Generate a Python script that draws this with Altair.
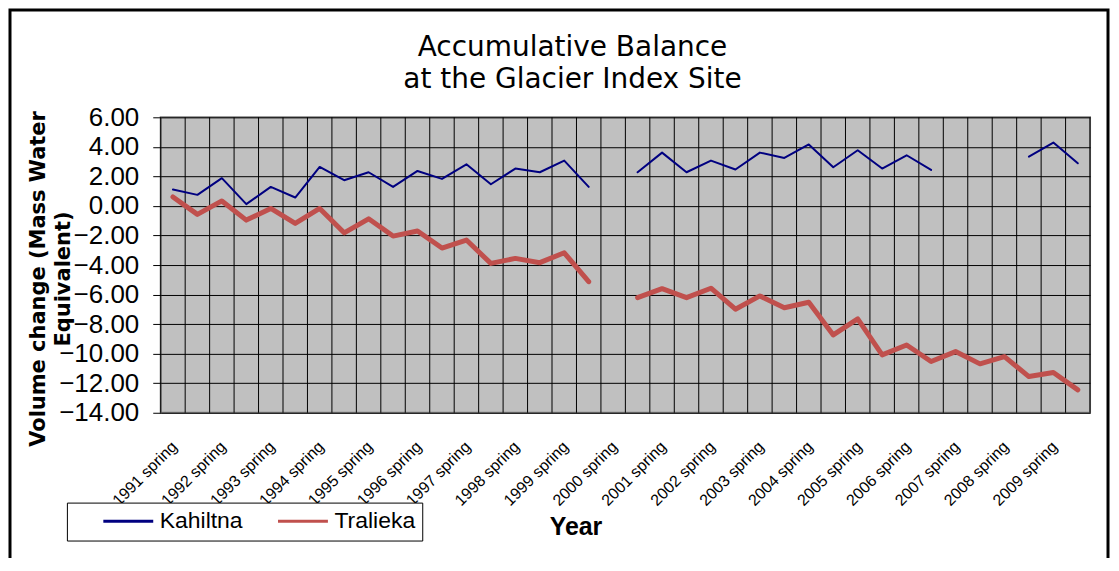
import altair as alt
import pandas as pd

# ---- data ----
years = list(range(1991, 2010))
seasons = ["spring", "fall"]
categories = [f"{y} {s}" for y in years for s in seasons]

kahiltna = [1.11, 0.75, 1.88, 0.12, 1.29, 0.57, 2.64, 1.74, 2.28, 1.29,
            2.37, 1.83, 2.82, 1.47, 2.53, 2.28, 3.07, 1.29, None,
            2.28, 3.61, 2.28, 3.07, 2.47, 3.61, 3.25, 4.16, 2.62, 3.77,
            2.53, 3.43, 2.44, None, None, None, 3.34, 4.29, 2.89]
tralieka = [0.61, -0.57, 0.34, -0.96, -0.17, -1.18, -0.17, -1.82, -0.87, -2.04,
            -1.70, -2.85, -2.31, -3.89, -3.55, -3.84, -3.17, -5.13, None,
            -6.21, -5.60, -6.21, -5.57, -6.99, -6.09, -6.89, -6.52, -8.73, -7.65,
            -10.08, -9.41, -10.53, -9.86, -10.69, -10.20, -11.55, -11.28, -12.45]

series_names = ["Kahiltna", "Tralieka"]
series_colors = ["#000080", "#C0504D"]
y_ticks = [-14, -12, -10, -8, -6, -4, -2, 0, 2, 4, 6]

title_lines = ["Accumulative Balance", "at the Glacier Index Site"]
y_title = ["Volume change (Mass Water", "Equivalent)"]
x_title = "Year"

# ---- tables ----
def series_table(name, vals):
    rows, seg = [], 0
    for i, v in enumerate(vals):
        if v is None:
            seg += 1
            continue
        rows.append({"idx": i, "period": categories[i], "value": v,
                     "series": name, "segment": f"{name}-{seg}"})
    return pd.DataFrame(rows)

df_k = series_table("Kahiltna", kahiltna)
df_t = series_table("Tralieka", tralieka)

# category boundaries (vertical grid lines between categories)
bounds_df = pd.DataFrame({"b": [i - 0.5 for i in range(len(categories) + 1)]})
spring_idx = [i for i, c in enumerate(categories) if c.endswith("spring")]
cat_js = "[" + ",".join(f"'{c}'" for c in categories) + "]"

FONT = "Liberation Sans"
TFONT = "DejaVu Sans"

x_scale = alt.Scale(domain=[-0.5, len(categories) - 0.5], nice=False, zero=False)
y_scale = alt.Scale(domain=[-14, 6], nice=False, zero=False)
color_scale = alt.Scale(domain=series_names, range=series_colors)

x_axis = alt.Axis(
    values=spring_idx, grid=False, ticks=False, domain=False,
    labelAngle=315, labelAlign="right", labelBaseline="middle",
    labelPadding=31, labelOffset=1, labelOverlap=False, labelFlush=False,
    labelFont=FONT, labelFontSize=16, labelColor="black",
    labelExpr=cat_js + "[datum.value]",
    titleFont=FONT, titleFontSize=25, titleFontWeight="bold", titleColor="black",
    titleX=415.5, titleY=122, titleAlign="center", titleBaseline="alphabetic",
)
y_axis = alt.Axis(
    values=y_ticks, format=".2f",
    grid=True, gridColor="black", gridWidth=1, gridOpacity=1,
    ticks=True, tickColor="black", tickSize=8, tickWidth=1, domain=False,
    labelFont=FONT, labelFontSize=26, labelColor="black", labelPadding=14,
    labelOverlap=False,
    titleFont=TFONT, titleFontSize=21, titleFontWeight="bold", titleColor="black",
    titleX=-122.5, titleY=161.5, titleAlign="center", titleBaseline="middle",
    titleLineHeight=25,
)
legend = alt.Legend(
    title=None, orient="none", legendX=-94, legendY=386, direction="horizontal",
    symbolType="stroke", symbolSize=2500, symbolStrokeWidth=3, clipHeight=23,
    symbolOffset=28, labelOffset=5, columnPadding=5,
    labelFont=FONT, labelFontSize=23, labelColor="black",
    strokeColor="black", fillColor="white", padding=7,
)

frame = alt.Chart(alt.Data(values=[{"k": 1}])).mark_rect(
    filled=False, stroke="black", strokeWidth=3
).encode(
    x=alt.value(-151), x2=alt.value(949), y=alt.value(-107.5), y2=alt.value(480)
)

vgrid = alt.Chart(bounds_df).mark_rule(color="black", strokeWidth=1).encode(
    x=alt.X("b:Q", scale=x_scale, axis=x_axis, title=x_title)
)

def line_layer(df, width):
    return alt.Chart(df).mark_line(strokeWidth=width, strokeCap="round",
                                   strokeJoin="round").encode(
        x=alt.X("idx:Q", scale=x_scale, axis=x_axis, title=x_title),
        y=alt.Y("value:Q", scale=y_scale, axis=y_axis, title=y_title),
        color=alt.Color("series:N", scale=color_scale, legend=legend),
        detail="segment:N",
    )

chart = alt.layer(
    frame, vgrid, line_layer(df_k, 2), line_layer(df_t, 5)
).properties(
    width=931, height=296,
    title=alt.Title(title_lines, font=TFONT, fontSize=28, fontWeight="normal",
                    color="black", anchor="middle", dx=-53, dy=90, lineHeight=32),
    autosize=alt.AutoSizeParams(type="none"),
    padding={"left": 153, "top": 109, "right": 21, "bottom": 145},
).configure(
    background="white",
    view=alt.ViewConfig(fill="#C0C0C0", stroke="#808080", strokeWidth=2),
)

chart.save("out.html", embed_options={"renderer": "svg", "actions": False})
